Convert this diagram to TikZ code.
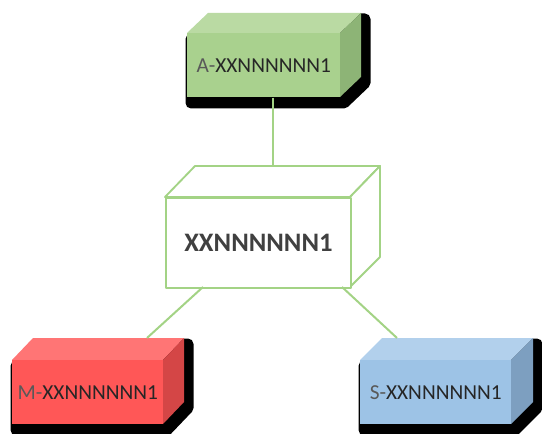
\documentclass[tikz,border=0pt]{standalone}
\usepackage{fontspec}
\setmainfont{Carlito}
\definecolor{gF}{HTML}{A9D18E}\definecolor{gT}{HTML}{BADAA3}\definecolor{gS}{HTML}{8DB476}
\definecolor{rF}{HTML}{FF5757}\definecolor{rT}{HTML}{FF7575}\definecolor{rS}{HTML}{D44646}
\definecolor{bF}{HTML}{9DC3E6}\definecolor{bT}{HTML}{B2D0EC}\definecolor{bS}{HTML}{7D9FC0}
\definecolor{lineg}{HTML}{A3D385}
\definecolor{pref}{HTML}{595959}
\definecolor{txt}{HTML}{262626}
\definecolor{ctxt}{HTML}{404040}
\tikzset{
  boxtext/.style={font=\fontsize{16pt}{18pt}\selectfont, text=txt},
  link/.style={draw=lineg, line width=1.5pt},
  outl/.style={draw=lineg, line width=1.4pt, line join=round},
  shadowpoly/.style={fill=black, draw=black, line width=8.25pt, line join=round},
}
% #1 name, #2 x1, #3 y1, #4 x2, #5 y2, #6 dx, #7 dy, #8 colour prefix, #9 text
\newcommand\mybox[9]{%
  \path[shadowpoly] (#2+4,#5+6) -- (#2+4,#3+6) -- (#2+#6+4,#3-#7+6) -- (#4+#6+4,#3-#7+6) -- (#4+#6+4,#5-#7+6) -- (#4+4,#5+6) -- cycle;
  \fill[#8T] (#2,#3) -- (#2+#6,#3-#7) -- (#4+#6,#3-#7) -- (#4,#3) -- cycle;
  \fill[#8S] (#4,#3) -- (#4+#6,#3-#7) -- (#4+#6,#5-#7) -- (#4,#5) -- cycle;
  \node[boxtext, inner sep=0pt, fill=#8F, anchor=north west,
        minimum width={(#4-#2)*0.75pt}, minimum height={(#5-#3)*0.75pt}] (#1) at (#2,#3) {#9};
}
\begin{document}
\begin{tikzpicture}[x=0.75pt,y=-0.75pt]
\useasboundingbox (0,0) rectangle (542,434);
% connector end points
\coordinate (Ctop) at (273,166);
\coordinate (Mtop) at (147,338);
\coordinate (Stop) at (397,338);
\coordinate (Cbl) at (203,287);
\coordinate (Cbr) at (342,287);
% boxes
\mybox{A}{187}{33}{340}{97}{21}{20}{g}{\textcolor{pref}{A-}XXNNNNNN1}
\mybox{M}{12}{360}{163}{424}{21}{22}{r}{\textcolor{pref}{M-}XXNNNNNN1}
\mybox{S}{360}{360}{511}{424}{22}{22}{b}{\textcolor{pref}{S-}XXNNNNNN1}
% center box
\draw[outl, fill=white] (165,197) -- (195,166) -- (380,166) -- (350,197) -- cycle;
\draw[outl, fill=white] (350,197) -- (380,166) -- (380,257) -- (350,287) -- cycle;
\node[outl, fill=white, inner sep=0pt, anchor=north west,
      minimum width={185*0.75pt}, minimum height={90*0.75pt},
      font=\fontsize{20pt}{23pt}\selectfont\bfseries, text=ctxt] (C) at (165,197) {XXNNNNNN1};
% links
\draw[link] (A.south -| Ctop) -- (Ctop);
\draw[link] (Cbl) -- (Mtop);
\draw[link] (Cbr) -- (Stop);
\end{tikzpicture}
\end{document}
